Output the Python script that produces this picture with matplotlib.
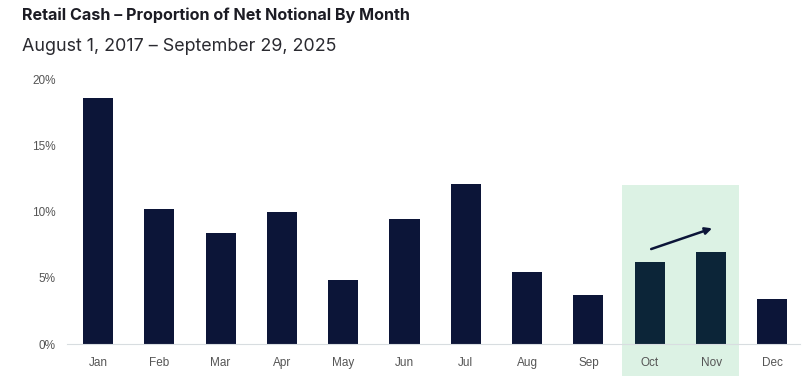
import matplotlib.pyplot as plt
from matplotlib.patches import Rectangle, FancyArrowPatch

plt.rcParams['font.family'] = ['Inter', 'DejaVu Sans']

# DATA
months = ["Jan", "Feb", "Mar", "Apr", "May", "Jun", "Jul", "Aug", "Sep", "Oct", "Nov", "Dec"]
share = [18.6, 10.2, 8.4, 10.0, 4.85, 9.45, 12.1, 5.45, 3.7, 6.2, 6.95, 3.4]
highlight = ["Oct", "Nov"]
y_ticks = [0, 5, 10, 15, 20]

NAVY = "#0c1538"
TEAL = "#0c2538"
GREEN_BG = "#dcf2e4"

fig = plt.figure(figsize=(8.04, 3.79), dpi=100)
ax = fig.add_axes([0.0833, 0.0923, 0.9117, 0.6992])

x = list(range(len(months)))
colors = [TEAL if m in highlight else NAVY for m in months]

# highlighted band behind Oct/Nov
hi = [months.index(m) for m in highlight]
ax.add_patch(Rectangle((hi[0] - 0.46, -2.4), (hi[-1] - hi[0]) + 0.92, 14.4,
                       facecolor=GREEN_BG, edgecolor="none", clip_on=False, zorder=0))

ax.bar(x, share, width=0.49, color=colors, zorder=2)

# trend arrow
ax.add_patch(FancyArrowPatch((hi[0] - 0.02, 7.1), (hi[-1] + 0.06, 8.8),
                             arrowstyle="-|>", mutation_scale=10, lw=1.8,
                             color=NAVY, zorder=3))

ax.set_xlim(-0.505, 11.45)
ax.set_ylim(0, 20)
ax.set_xticks(x)
ax.set_xticklabels(months, family=["Liberation Sans", "DejaVu Sans"])
ax.set_yticks(y_ticks)
ax.set_yticklabels([f"{t}%" for t in y_ticks], family=["Liberation Sans", "DejaVu Sans"])
ax.tick_params(length=0, labelsize=8.5, colors="#555555")
ax.tick_params(axis="x", pad=9)
ax.tick_params(axis="y", pad=8)
for s in ["top", "right", "left"]:
    ax.spines[s].set_visible(False)
ax.spines["bottom"].set_color("#d8dde0")
ax.spines["bottom"].set_zorder(4)
ax.set_facecolor("none")

fig.text(0.027, 0.96, "Retail Cash \u2013 Proportion of Net Notional By Month",
         fontsize=11.6, fontweight="bold", color="#1c1c24", va="center")
fig.text(0.027, 0.878, "August 1, 2017 \u2013 September 29, 2025",
         fontsize=12.9, color="#2a2a30", va="center")

fig.savefig("out.png", dpi=100)
